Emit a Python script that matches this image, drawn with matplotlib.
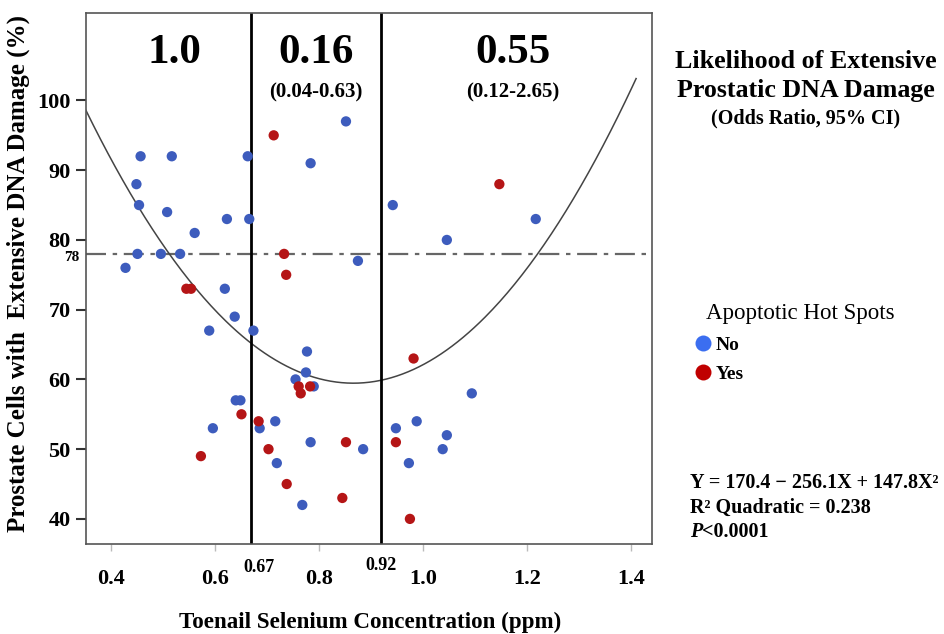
import matplotlib
matplotlib.use("Agg")
import matplotlib.pyplot as plt
import numpy as np
from matplotlib.lines import Line2D
from matplotlib.text import Annotation

plt.rcParams['font.family'] = ['Liberation Serif', 'DejaVu Serif']

# ---- data ----
no_x = [0.457, 0.517, 0.663, 0.449, 0.454, 0.508, 0.623, 0.666, 0.561, 0.451,
        0.496, 0.533, 0.428, 0.619, 0.638, 0.589, 0.674, 0.640, 0.649, 0.686,
        0.596, 0.852, 0.784, 0.942, 0.875, 0.777, 0.775, 0.755, 0.790, 0.716,
        0.784, 0.885, 0.719, 0.768, 0.948, 0.988, 0.973, 1.217, 1.046, 1.094,
        1.046, 1.038]
no_y = [92, 92, 92, 88, 85, 84, 83, 83, 81, 78,
        78, 78, 76, 73, 69, 67, 67, 57, 57, 53,
        53, 97, 91, 85, 77, 64, 61, 60, 59, 54,
        51, 50, 48, 42, 53, 54, 48, 83, 80, 58,
        52, 50]
yes_x = [0.545, 0.554, 0.651, 0.684, 0.573, 0.713, 0.733, 0.737, 0.761, 0.783,
         0.765, 0.852, 0.703, 0.738, 0.845, 0.982, 0.948, 0.975, 1.147]
yes_y = [73, 73, 55, 54, 49, 95, 78, 75, 59, 59,
         58, 51, 50, 45, 43, 63, 51, 40, 88]

coef = [170.4, -256.1, 147.8]
cutpoints = [0.67, 0.92]
ref_line = 78
odds = ["1.0", "0.16", "0.55"]
cis = ["", "(0.04-0.63)", "(0.12-2.65)"]
xticks = [0.4, 0.6, 0.8, 1.0, 1.2, 1.4]
yticks = [40, 50, 60, 70, 80, 90, 100]

W, H = 944, 634
fig = plt.figure(figsize=(W / 100, H / 100), dpi=100)
L, R, T, B = 86, 651.7, 13.3, 544
ax = fig.add_axes([L / W, 1 - B / H, (R - L) / W, (B - T) / H])
ax.set_xlim(0.352, 1.440)
ax.set_ylim(36.4, 112.5)

def fp(x, y):
    return (x / W, 1 - y / H)

col_no = '#3d5cbd'
col_yes = '#b51516'

ax.scatter(no_x, no_y, s=55, color=col_no, edgecolors='none', zorder=3)
ax.scatter(yes_x, yes_y, s=55, color=col_yes, edgecolors='none', zorder=3)

xx = np.linspace(0.352, 1.41, 300)
yy = coef[0] + coef[1] * xx + coef[2] * xx ** 2
ax.plot(xx, yy, color='#444444', lw=1.1, zorder=2)

ax.axhline(ref_line, color='#666666', lw=1.6, dashes=(9, 3, 2, 3), zorder=1)
for c in cutpoints:
    ax.axvline(c, color='black', lw=2.0, zorder=2)

for s in ax.spines.values():
    s.set_color('#555555')
    s.set_linewidth(1.2)

ax.set_xticks(xticks)
ax.set_xticklabels([f"{v:.1f}" for v in xticks])
ax.set_yticks(yticks)
ax.set_yticklabels([str(v) for v in yticks])
ax.tick_params(axis='x', length=5, width=1, color='#bbbbbb', pad=13, labelsize=16)
ax.tick_params(axis='y', length=7, width=1.5, color='#333333', pad=4, labelsize=16)
for lab in ax.get_xticklabels() + ax.get_yticklabels():
    lab.set_fontweight('bold')

# region labels
centers_px = [174, 316, 513]
for i, (o, ci) in enumerate(zip(odds, cis)):
    fig.text(*fp(centers_px[i], 53), o, ha='center', va='center',
             fontsize=31, fontweight='bold')
    if ci:
        fig.text(*fp(centers_px[i], 92), ci, ha='center', va='center',
                 fontsize=15, fontweight='bold')

# cut point labels
ax.annotate("0.67", xy=(0.67, 0), xycoords=('data', 'axes fraction'),
            xytext=(8, -23), textcoords='offset pixels', ha='center', va='center',
            fontsize=13, fontweight='bold')
ax.annotate("0.92", xy=(0.92, 0), xycoords=('data', 'axes fraction'),
            xytext=(0, -21), textcoords='offset pixels', ha='center', va='center',
            fontsize=13, fontweight='bold')

# 78 label
ax.annotate("78", xy=(0, ref_line), xycoords=('axes fraction', 'data'),
            xytext=(-7, -4), textcoords='offset pixels', ha='right', va='center',
            fontsize=11, fontweight='bold')

# axis titles
fig.text(*fp(370, 622), "Toenail Selenium Concentration (ppm)", ha='center',
         va='center', fontsize=16.6, fontweight='bold')
fig.text(*fp(18, 274), "Prostate Cells with  Extensive DNA Damage (%)", ha='center',
         va='center', rotation=90, fontsize=18, fontweight='bold')

# title block at right
fig.text(*fp(806, 62), "Likelihood of Extensive", ha='center', va='center',
         fontsize=18.7, fontweight='bold')
fig.text(*fp(806, 90), "Prostatic DNA Damage", ha='center', va='center',
         fontsize=18.7, fontweight='bold')
fig.text(*fp(806, 118), "(Odds Ratio, 95% CI)", ha='center', va='center',
         fontsize=14.5, fontweight='bold')

# legend
fig.text(*fp(706, 313), "Apoptotic Hot Spots", ha='left', va='center', fontsize=16.5)
handles = [Line2D([], [], marker='o', linestyle='none', markersize=11.5,
                  markerfacecolor='#3b6ef0', markeredgecolor='none', label='No'),
           Line2D([], [], marker='o', linestyle='none', markersize=11.5,
                  markerfacecolor='#c00000', markeredgecolor='none', label='Yes')]
leg = fig.legend(handles=handles, loc='upper left',
                 bbox_to_anchor=fp(693, 336), frameon=False,
                 handletextpad=0.15, handlelength=1.0, labelspacing=0.62,
                 borderaxespad=0, borderpad=0,
                 prop={'size': 14, 'weight': 'bold'})

# equation text
fig.text(*fp(690, 483), "Y = 170.4 \u2212 256.1X + 147.8X\u00b2", ha='left', va='center',
         fontsize=14.5, fontweight='bold')
fig.text(*fp(690, 508), "R\u00b2 Quadratic = 0.238", ha='left', va='center',
         fontsize=14.5, fontweight='bold')
tp = fig.text(*fp(690, 532), "P", ha='left', va='center', fontsize=14.5,
              fontweight='bold', fontstyle='italic')
fig.add_artist(Annotation("<0.0001", xy=(1, 0), xycoords=tp, xytext=(0, 0),
                          textcoords='offset pixels', ha='left', va='bottom',
                          fontsize=14.5, fontweight='bold'))

fig.savefig("out.png", dpi=100)
